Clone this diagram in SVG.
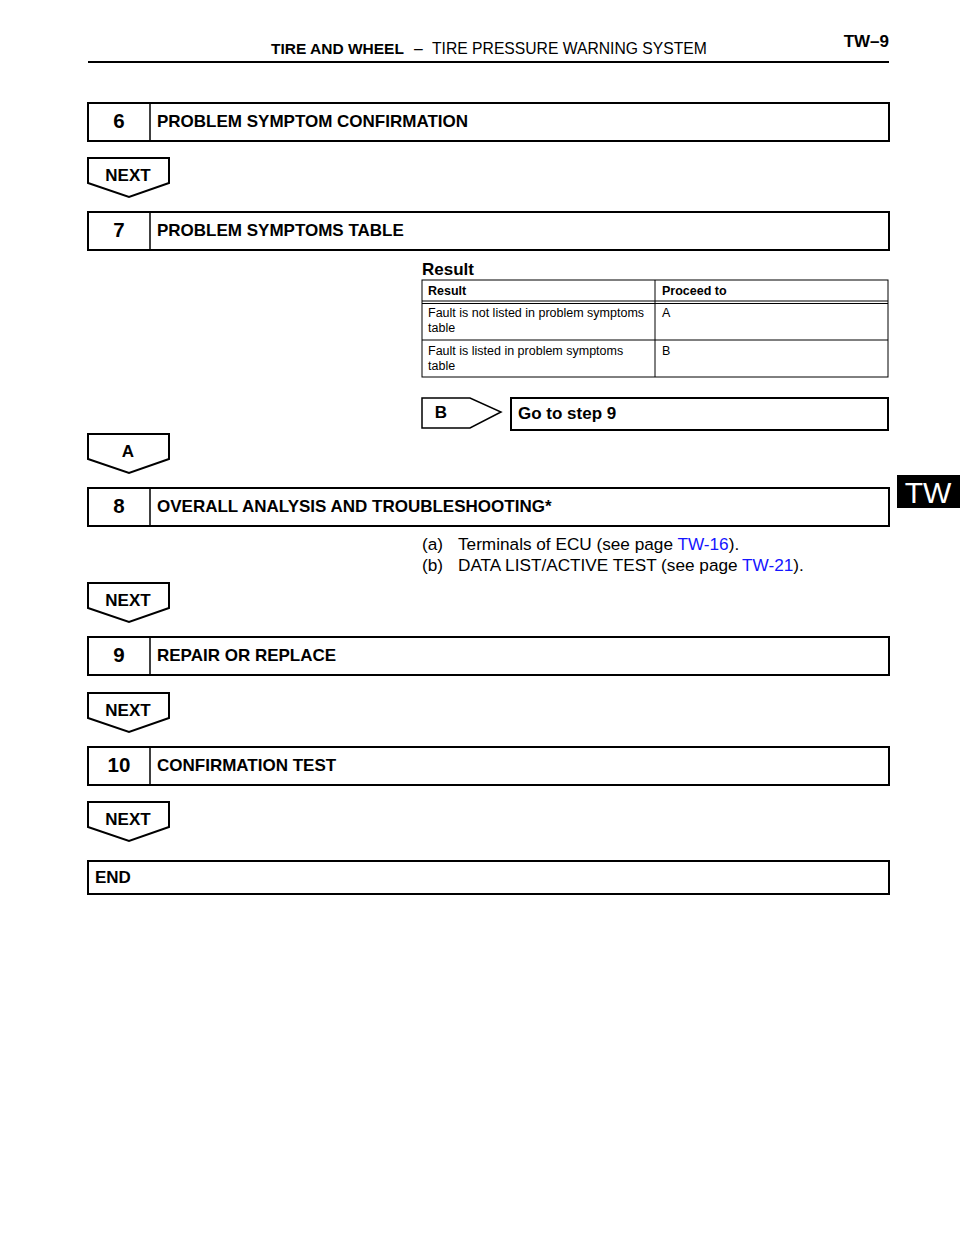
<svg xmlns="http://www.w3.org/2000/svg" width="960" height="1242" viewBox="0 0 960 1242">
<style>
text{font-family:"Liberation Sans",Arial,sans-serif;fill:#000}
.b{font-weight:bold}
.box{fill:#fff;stroke:#000;stroke-width:2}
.ln{stroke:#000;stroke-width:1.5;fill:none}
.num{font-size:20.5px;font-weight:bold;text-anchor:middle}
.ttl{font-size:17px;font-weight:bold}
.nx{font-size:17px;font-weight:bold;text-anchor:middle}
.tb{font-size:12.5px}
.bd{font-size:17.2px}
.lk{fill:#1515ff}
.tc{fill:#fff;stroke:#000;stroke-width:1}
</style>
<defs>
<path id="dn" d="M88,158 H169 V183 L129,197 L88,183 Z" class="box"/>
</defs>
<rect width="960" height="1242" fill="#fff"/>
<g id="header">
<text x="271" y="54" font-size="15.5" class="b">TIRE AND WHEEL</text>
<text x="414" y="54" font-size="15.7">–</text>
<text x="432" y="54" font-size="15.7">TIRE PRESSURE WARNING SYSTEM</text>
<text x="889" y="47" font-size="17" class="b" text-anchor="end">TW–9</text>
<line x1="88" y1="62" x2="889" y2="62" stroke="#000" stroke-width="2"/>
</g>
<g id="tab">
<rect x="897" y="475" width="63" height="33" fill="#000"/>
<text x="928" y="503" font-size="30" text-anchor="middle" style="fill:#fff">TW</text>
</g>
<g id="step6">
<rect x="88" y="103" width="801" height="38" class="box"/>
<line x1="150" y1="103" x2="150" y2="141" class="ln"/>
<text x="119" y="128" class="num">6</text>
<text x="157" y="127" class="ttl">PROBLEM SYMPTOM CONFIRMATION</text>
</g>
<g id="next1">
<use href="#dn"/>
<text x="128" y="181" class="nx">NEXT</text>
</g>
<g id="step7">
<rect x="88" y="212" width="801" height="38" class="box"/>
<line x1="150" y1="212" x2="150" y2="250" class="ln"/>
<text x="119" y="237" class="num">7</text>
<text x="157" y="236" class="ttl">PROBLEM SYMPTOMS TABLE</text>
</g>
<g id="result">
<text x="422" y="275" class="ttl">Result</text>
<rect x="422" y="280" width="466" height="97" class="tc"/>
<line x1="422" y1="301" x2="888" y2="301" stroke="#000" stroke-width="1"/>
<line x1="422" y1="303.5" x2="888" y2="303.5" stroke="#000" stroke-width="1"/>
<line x1="422" y1="340" x2="888" y2="340" stroke="#000" stroke-width="1"/>
<line x1="655" y1="280" x2="655" y2="377" stroke="#000" stroke-width="1"/>
<text x="428" y="295" class="tb b">Result</text>
<text x="662" y="295" class="tb b">Proceed to</text>
<text x="428" y="317" class="tb">Fault is not listed in problem symptoms</text>
<text x="428" y="332" class="tb">table</text>
<text x="662" y="317" class="tb">A</text>
<text x="428" y="355" class="tb">Fault is listed in problem symptoms</text>
<text x="428" y="370" class="tb">table</text>
<text x="662" y="355" class="tb">B</text>
</g>
<g id="branchB">
<path d="M422,398 H470 L501,412 L470,428 H422 Z" class="box" style="stroke-width:1.5"/>
<text x="441" y="418" class="nx">B</text>
</g>
<g id="goto9">
<rect x="511" y="398" width="377" height="32" class="box"/>
<text x="518" y="419" class="ttl">Go to step 9</text>
</g>
<g id="branchA">
<use href="#dn" y="276"/>
<text x="128" y="457" class="nx">A</text>
</g>
<g id="step8">
<rect x="88" y="488" width="801" height="38" class="box"/>
<line x1="150" y1="488" x2="150" y2="526" class="ln"/>
<text x="119" y="513" class="num">8</text>
<text x="157" y="512" class="ttl">OVERALL ANALYSIS AND TROUBLESHOOTING*</text>
<text x="422" y="550" class="bd">(a)</text>
<text x="458" y="550" class="bd">Terminals of ECU (see page <tspan class="lk">TW-16</tspan>).</text>
<text x="422" y="571" class="bd">(b)</text>
<text x="458" y="571" class="bd">DATA LIST/ACTIVE TEST (see page <tspan class="lk">TW-21</tspan>).</text>
</g>
<g id="next2">
<use href="#dn" y="425"/>
<text x="128" y="606" class="nx">NEXT</text>
</g>
<g id="step9">
<rect x="88" y="637" width="801" height="38" class="box"/>
<line x1="150" y1="637" x2="150" y2="675" class="ln"/>
<text x="119" y="662" class="num">9</text>
<text x="157" y="661" class="ttl">REPAIR OR REPLACE</text>
</g>
<g id="next3">
<use href="#dn" y="535"/>
<text x="128" y="716" class="nx">NEXT</text>
</g>
<g id="step10">
<rect x="88" y="747" width="801" height="38" class="box"/>
<line x1="150" y1="747" x2="150" y2="785" class="ln"/>
<text x="119" y="772" class="num">10</text>
<text x="157" y="771" class="ttl">CONFIRMATION TEST</text>
</g>
<g id="next4">
<use href="#dn" y="644"/>
<text x="128" y="825" class="nx">NEXT</text>
</g>
<g id="end">
<rect x="88" y="861" width="801" height="33" class="box"/>
<text x="95" y="883" class="ttl">END</text>
</g>
<g id="connectors"></g>
</svg>
